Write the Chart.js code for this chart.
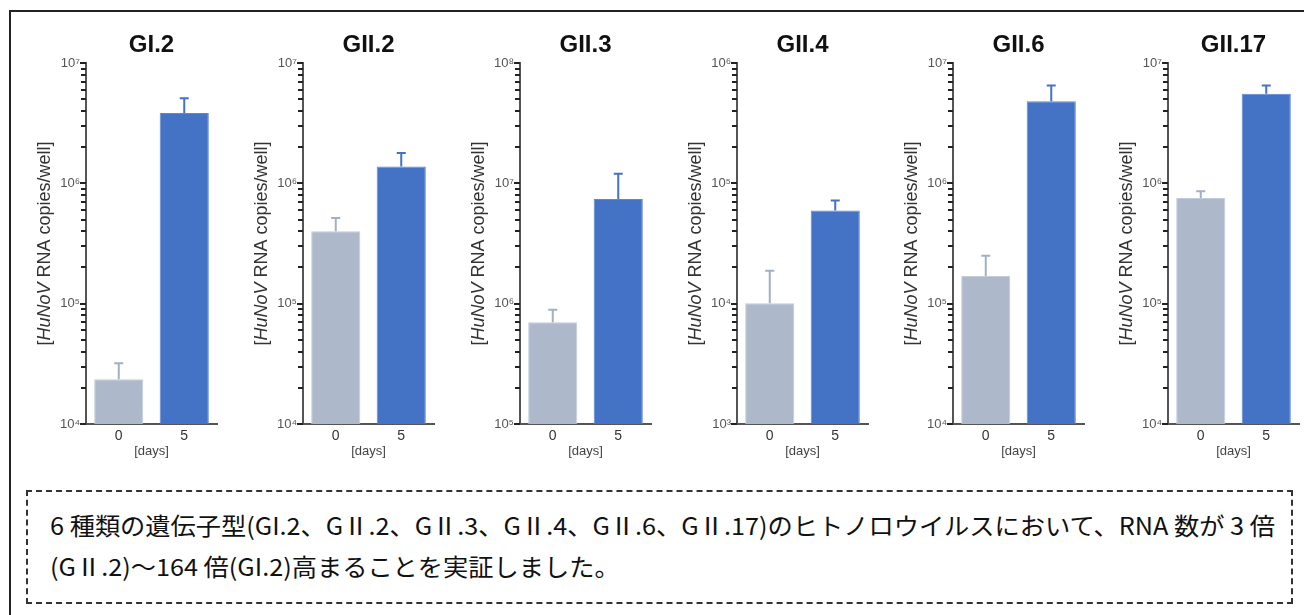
<!DOCTYPE html>
<html>
<head>
<meta charset="utf-8">
<script src="https://cdn.jsdelivr.net/npm/chart.js@4.4.1/dist/chart.umd.min.js"></script>
<style>
  html, body { margin: 0; padding: 0; background: #fff; }
  body { width: 1304px; height: 615px; position: relative; overflow: hidden; font-family: "Liberation Sans", Arial, sans-serif; }
  #frame { position: absolute; left: 9px; top: 10px; width: 1320px; height: 640px; border: 2px solid #222; box-sizing: border-box; }
  canvas.panel { position: absolute; top: 0; }
  #note { position: absolute; left: 26px; top: 490px; width: 1267px; height: 114px; border: 2px dashed #333; box-sizing: border-box; }
  #note .line { position: absolute; left: 22px; white-space: nowrap; font-family: "Noto Sans CJK JP", sans-serif; font-size: 24px; color: #111; transform-origin: left center; line-height: 24px; }
</style>
</head>
<body>
<div id="frame"></div>
<div id="charts"></div>
<div id="note">
  <div class="line" id="line1" style="top: 21px;">6 種類の遺伝子型(GI.2、GⅡ.2、GⅡ.3、GⅡ.4、GⅡ.6、GⅡ.17)のヒトノロウイルスにおいて、RNA 数が 3 倍</div>
  <div class="line" id="line2" style="top: 62px;">(GⅡ.2)～164 倍(GI.2)高まることを実証しました。</div>
</div>
<script>
// --- data ---
const genotypes = ["GI.2", "GII.2", "GII.3", "GII.4", "GII.6", "GII.17"];
const days = ["0", "5"];
const day0 = [2.35e4, 4.0e5, 7.0e5, 1.01e4, 1.7e5, 7.55e5];
const day0Err = [3.2e4, 5.15e5, 8.9e5, 1.88e4, 2.5e5, 8.6e5];
const day5 = [3.85e6, 1.38e6, 7.4e6, 5.95e4, 4.8e6, 5.56e6];
const day5Err = [5.1e6, 1.79e6, 1.2e7, 7.2e4, 6.5e6, 6.5e6];
const yMin = [1e4, 1e4, 1e5, 1e3, 1e4, 1e4];
const yMax = [1e7, 1e7, 1e8, 1e6, 1e7, 1e7];

const GREY = "#adb9cb";
const BLUE = "#4472c4";
const SUP = { "0": "⁰", "1": "¹", "2": "²", "3": "³", "4": "⁴", "5": "⁵", "6": "⁶", "7": "⁷", "8": "⁸", "9": "⁹" };

// layout of the six panels (left edge of each y axis)
const axisLeft = [86, 303, 520, 737, 953, 1168];
const yAxisW = 80;
const areaW = 131;
const canvasH = 470;

// error bars, y tick marks, titles and y-axis caption
const panelDecor = {
    id: "panelDecor",
    afterDatasetsDraw(chart, args, opts) {
        const ctx = chart.ctx;
        const y = chart.scales.y;
        const meta = chart.getDatasetMeta(0);
        const errs = chart.data.datasets[0].errorTop;
        const cols = chart.data.datasets[0].errColor;
        ctx.save();
        ctx.lineWidth = 2;
        meta.data.forEach((bar, i) => {
            const top = y.getPixelForValue(errs[i]);
            ctx.strokeStyle = cols[i];
            ctx.beginPath();
            ctx.moveTo(bar.x, bar.y);
            ctx.lineTo(bar.x, top);
            ctx.moveTo(bar.x - 4.5, top);
            ctx.lineTo(bar.x + 4.5, top);
            ctx.stroke();
        });
        ctx.restore();
    },
    afterDraw(chart, args, opts) {
        const ctx = chart.ctx;
        const area = chart.chartArea;
        const y = chart.scales.y;
        const cx = (area.left + area.right) / 2;
        ctx.save();
        // tick marks on the log axis
        ctx.fillStyle = "#222";
        y.ticks.forEach(t => {
            const py = Math.round(y.getPixelForValue(t.value));
            const len = t.major ? 6 : 5;
            ctx.fillRect(area.left - len, py - 1, len, 2);
        });
        // title
        ctx.fillStyle = "#111";
        ctx.font = "bold 24px 'Liberation Sans', Arial";
        ctx.textAlign = "center";
        ctx.textBaseline = "middle";
        ctx.fillText(opts.title, cx, 45);
        // [days]
        ctx.fillStyle = "#444";
        ctx.font = "13px 'Liberation Sans', Arial";
        ctx.fillText("[days]", cx, 451);
        // rotated y caption with italic HuNoV
        const parts = [
            { t: "[", f: "18px 'Liberation Sans', Arial" },
            { t: "HuNoV", f: "italic 18px 'Liberation Sans', Arial" },
            { t: " RNA copies/well]", f: "18px 'Liberation Sans', Arial" }
        ];
        let total = 0;
        parts.forEach(p => { ctx.font = p.f; p.w = ctx.measureText(p.t).width; total += p.w; });
        ctx.translate(area.left - 41, (area.top + area.bottom) / 2);
        ctx.rotate(-Math.PI / 2);
        ctx.textAlign = "left";
        ctx.fillStyle = "#333";
        let x = -total / 2;
        parts.forEach(p => { ctx.font = p.f; ctx.fillText(p.t, x, 0); x += p.w; });
        ctx.restore();
    }
};

const holder = document.getElementById("charts");

genotypes.forEach((name, i) => {
    const canvas = document.createElement("canvas");
    canvas.className = "panel";
    canvas.width = yAxisW + areaW + 6;
    canvas.height = canvasH;
    canvas.style.left = (axisLeft[i] - yAxisW) + "px";
    holder.appendChild(canvas);

    new Chart(canvas.getContext("2d"), {
        type: "bar",
        data: {
            labels: days,
            datasets: [{
                data: [day0[i], day5[i]],
                backgroundColor: [GREY, BLUE],
                borderColor: ["#c3ccd9", "#5f87cf"],
                borderWidth: 1,
                errorTop: [day0Err[i], day5Err[i]],
                errColor: ["#a3afc3", BLUE],
                barPercentage: 0.75,
                categoryPercentage: 1
            }]
        },
        options: {
            responsive: false,
            animation: false,
            layout: { padding: { top: 63, bottom: 26, left: 0, right: 6 } },
            plugins: {
                legend: { display: false },
                tooltip: { enabled: false },
                panelDecor: { title: name }
            },
            scales: {
                x: {
                    grid: { display: false, drawTicks: false },
                    border: { display: true, color: "#555", width: 2 },
                    ticks: { color: "#333", font: { size: 14, family: "'Liberation Sans', Arial" }, padding: 4 },
                    afterFit: s => { s.height = 20; }
                },
                y: {
                    type: "logarithmic",
                    min: yMin[i],
                    max: yMax[i],
                    grid: { display: false, drawTicks: false },
                    border: { display: true, color: "#555", width: 2 },
                    afterBuildTicks: s => {
                        // decade ticks plus 2..9 minor ticks
                        const t = [];
                        for (let e = Math.log10(yMin[i]); e < Math.log10(yMax[i]); e++) {
                            for (let m = 1; m <= 9; m++) t.push({ value: m * Math.pow(10, e), major: m === 1 });
                        }
                        t.push({ value: yMax[i], major: true });
                        s.ticks = t;
                    },
                    ticks: {
                        autoSkip: false,
                        padding: 6,
                        color: "#555",
                        font: { size: 13, family: "'Liberation Sans', Arial" },
                        callback: v => {
                            const e = Math.log10(v);
                            if (Math.abs(e - Math.round(e)) > 1e-9) return "";
                            return "10" + String(Math.round(e)).split("").map(d => SUP[d]).join("");
                        }
                    },
                    afterFit: s => { s.width = yAxisW; }
                }
            }
        },
        plugins: [panelDecor]
    });
});

// squeeze the note text to the condensed width of the original
const l1 = document.getElementById("line1");
const l2 = document.getElementById("line2");
const k = 1225 / l1.getBoundingClientRect().width;
l1.style.transform = "scaleX(" + k + ")";
l2.style.transform = "scaleX(" + k + ")";
</script>
</body>
</html>
